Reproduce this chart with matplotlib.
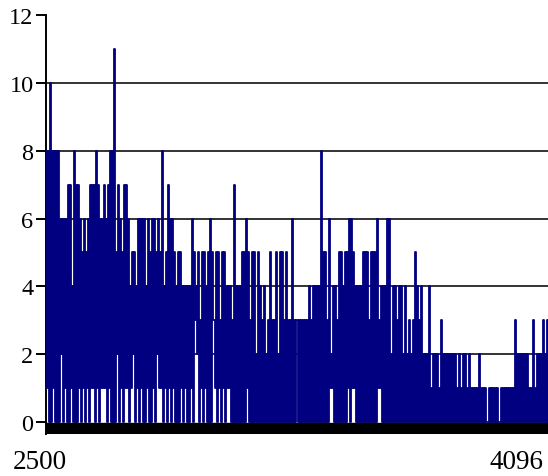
import numpy as np
import matplotlib.pyplot as plt

plt.rcParams['font.family'] = ['Liberation Serif', 'DejaVu Serif']

# per 2-pixel column: highest and lowest count seen in that column
peak = [8, 8, 10, 8, 8, 8, 8, 6, 6, 6, 6, 7, 7, 4, 8, 7, 7, 6, 5, 6, 5, 6, 7, 7, 7, 8, 7, 6, 6,
        7, 6, 7, 8, 8, 11, 5, 7, 6, 5, 7, 7, 6, 4, 5, 5, 4, 6, 6, 6, 6, 4, 6, 5, 6, 6, 5, 6, 5, 8, 4,
        5, 7, 6, 6, 5, 4, 5, 5, 4, 4, 4, 4, 4, 6, 5, 4, 5, 3, 5, 5, 4, 5, 6, 5, 3, 5, 5, 3, 5, 5,
        4, 4, 4, 3, 7, 4, 4, 4, 5, 5, 6, 5, 3, 5, 5, 2, 5, 4, 3, 4, 2, 3, 5, 3, 3, 5, 2, 5, 5, 3,
        5, 3, 3, 6, 3, 3, 3, 3, 3, 3, 3, 4, 3, 4, 4, 4, 4, 8, 5, 5, 3, 6, 2, 4, 4, 3, 5, 5, 4, 5,
        5, 6, 6, 5, 4, 4, 4, 4, 5, 5, 5, 3, 5, 5, 5, 6, 3, 4, 4, 4, 6, 6, 2, 4, 4, 3, 4, 4, 2, 4,
        2, 3, 2, 3, 5, 4, 3, 4, 2, 2, 2, 4, 1, 2, 2, 2, 1, 3, 2, 2, 2, 2, 2, 2, 2, 1, 2, 1, 2, 2,
        1, 2, 1, 1, 1, 1, 2, 1, 1, 1, 0, 1, 1, 1, 1, 1, 0, 1, 1, 1, 1, 1, 1, 1, 3, 2, 2, 2, 2, 2,
        2, 1, 1, 3, 1, 2, 2, 2, 3, 2, 3]
trough = [1, 0, 0, 1, 0, 0, 0, 2, 0, 1, 0, 0, 1, 0, 0, 0, 1, 0, 1, 0, 1, 0, 1, 1, 0, 1, 0, 1, 1,
          1, 0, 1, 0, 0, 0, 2, 0, 1, 0, 1, 1, 0, 1, 2, 0, 1, 0, 1, 0, 0, 1, 0, 0, 1, 0, 2, 1, 1, 0, 1,
          0, 1, 0, 1, 0, 0, 0, 1, 0, 1, 0, 0, 1, 0, 3, 2, 0, 1, 0, 1, 0, 0, 0, 3, 1, 0, 1, 0, 1, 0,
          1, 1, 0, 0, 0, 0, 0, 0, 0, 0, 1, 0, 0, 0, 0, 0, 0, 0, 0, 0, 0, 0, 0, 0, 0, 0, 0, 0, 0, 0,
          0, 0, 0, 0, 0, 0, 0, 0, 0, 0, 0, 0, 0, 0, 0, 0, 0, 0, 0, 0, 0, 1, 1, 0, 0, 0, 0, 0, 0, 0,
          1, 0, 1, 1, 0, 0, 0, 0, 0, 0, 0, 0, 0, 0, 0, 1, 1, 0, 0, 0, 0, 0, 0, 0, 0, 0, 0, 0, 0, 0,
          0, 0, 0, 0, 0, 0, 0, 0, 0, 0, 0, 0, 0, 0, 0, 0, 0, 0, 0, 0, 0, 0, 0, 0, 0, 0, 0, 0, 0, 0,
          0, 0, 0, 0, 0, 0, 0, 0, 0, 0, 0, 0, 0, 0, 0, 0, 0, 0, 0, 0, 0, 0, 0, 0, 0, 0, 0, 0, 0, 0,
          0, 0, 0, 0, 0, 0, 0, 0, 0, 0, 0]
y_ticks = [0, 2, 4, 6, 8, 10, 12]
x_start, x_end = 2500, 4096

counts = np.column_stack([peak, trough]).ravel()
x = np.linspace(x_start, x_end, len(counts))

fig = plt.figure(figsize=(5.48, 4.77), dpi=100)
ax = fig.add_axes([46 / 548, 42 / 477, 502 / 548, 419 / 477])

for v in y_ticks[1:-1]:
    ax.axhline(v, color='#333333', lw=1.4, zorder=1)

ax.plot(x, counts, drawstyle='steps-post', color='navy', lw=1.3, zorder=3)
ax.axhspan(-0.35, -0.03, color='black', zorder=4)

ax.set_xlim(x_start, x_end)
ax.set_ylim(-0.35, 12)
ax.set_xticks([])
ax.set_yticks(y_ticks)
ax.tick_params(axis='y', length=7, width=1.4, labelsize=17.5, pad=2)
for s in ['top', 'right', 'bottom']:
    ax.spines[s].set_visible(False)
ax.spines['left'].set_linewidth(1.4)

fig.text(13 / 548, 1 - 463 / 477, str(x_start), ha='left', va='center', fontsize=19.5)
fig.text(543 / 548, 1 - 463 / 477, str(x_end), ha='right', va='center', fontsize=19.5)

fig.savefig('out.png', dpi=100)
